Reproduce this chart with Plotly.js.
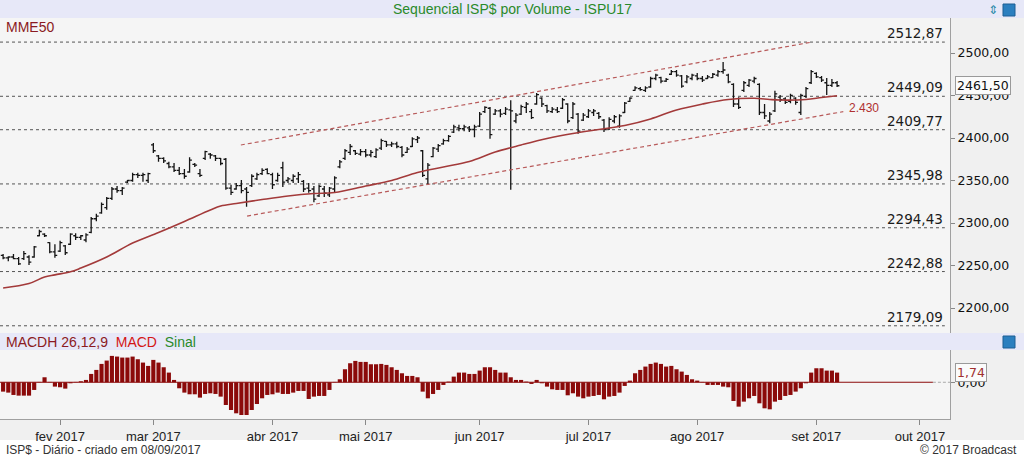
<!DOCTYPE html>
<html>
<head>
<meta charset="utf-8">
<script src="https://cdn.plot.ly/plotly-3.0.1.min.js"></script>
<style>
html,body{margin:0;padding:0;background:#f0f0f0;}
#chart{width:1024px;height:458px;}
</style>
</head>
<body>
<div id="chart"></div>
<script>
// ---- Data (trading-day index positions) ----
const monthTickIdx = [11, 29, 52, 70, 92, 113, 134, 157, 177];
const monthLabels = ["fev 2017", "mar 2017", "abr 2017", "mai 2017", "jun 2017", "jul 2017", "ago 2017", "set 2017", "out 2017"];

const openP = [
2262,2259,2260,2258,2258,2260,2260,2285,2287,2277,
2266,2267,2273,2275,2285,2283,2280,2289,2305,2312,
2318,2329,2340,2338,2348,2350,2357,2356,2350,2392,
2379,2376,2370,2366,2362,2358,2360,2369,2358,2376,
2381,2379,2376,2375,2341,2340,2344,2340,2344,2352,
2358,2363,2357,2350,2365,2350,2350,2352,2349,2341,
2340,2332,2340,2333,2340,2366,2376,2383,2385,2381,
2384,2380,2378,2388,2396,2392,2393,2389,2383,2390,
2398,2385,2352,2378,2387,2393,2397,2407,2412,2411,
2412,2410,2414,2431,2435,2428,2432,2429,2433,2420,
2428,2436,2431,2440,2447,2438,2431,2433,2435,2440,
2424,2428,2421,2425,2430,2429,2421,2411,2420,2414,
2430,2443,2456,2458,2456,2460,2470,2471,2467,2475,
2478,2473,2466,2470,2473,2470,2470,2471,2474,2478,
2474,2463,2440,2456,2462,2467,2463,2430,2420,2432,
2448,2446,2443,2447,2430,2449,2465,2476,2471,2465,
2462,2465];
const highP = [
2263.5,2261,2263.5,2260,2267,2262,2273,2292,2288,2277.5,
2275,2279,2274,2288,2288,2286,2288,2307,2311,2324,
2330.5,2342.5,2343.5,2342.5,2350.5,2359,2359,2359,2359,2394,
2380,2377.5,2372,2370.5,2366,2363.5,2377.5,2370.5,2363.5,2385,
2382.5,2380,2376.5,2376.5,2345,2347,2350.5,2342.5,2357.5,2359,
2364.5,2364.5,2359,2359,2372,2354,2357.5,2360,2350.5,2347,
2343.5,2345,2343.5,2342.5,2355,2374,2387,2393,2386,2387,
2387,2386,2388,2399,2396.5,2395.5,2395.5,2390.5,2389.5,2401,
2402.5,2386,2370.5,2389.5,2393,2399,2403.5,2415.5,2415.5,2415.5,
2414,2415.5,2430.5,2437.5,2436.5,2434,2434,2436.5,2444.5,2429.5,
2439,2442.5,2434,2453,2448,2439,2436.5,2436.5,2447,2441,
2442.5,2429.5,2429.5,2434,2434,2430.5,2422.5,2424.5,2427,2428,
2442.5,2448,2461,2460,2461,2472,2475.5,2472,2470.5,2480,
2480,2474,2474,2475.5,2476.5,2473,2474,2476.5,2480,2489.5,
2475.5,2464.5,2448,2467,2469.5,2472,2464.5,2440,2430.5,2455.5,
2450.5,2448,2452,2448,2452,2460,2480,2477.5,2473,2470.5,
2469.5,2467];
const lowP = [
2257.5,2255,2257.5,2250.5,2256.5,2250.5,2259,2284.5,2283.5,2264.5,
2259,2266,2262.5,2274,2280,2280,2277.5,2288,2302,2311,
2315.5,2327,2335.5,2333,2347,2348.5,2353,2348.5,2347,2382.5,
2372,2370.5,2364.5,2360,2356.5,2352,2359,2366,2354,2374,
2375.5,2373,2368,2339,2333,2339,2335,2319,2342.5,2350.5,
2356.5,2357.5,2340,2348.5,2342.5,2347,2347,2347,2336.5,2335.5,
2324.5,2330.5,2330.5,2330.5,2336.5,2364.5,2374,2380,2380,2379,
2377.5,2377.5,2376.5,2386,2389.5,2389.5,2388,2377.5,2382.5,2389.5,
2394,2354,2345,2377.5,2383.5,2392,2395.5,2406,2408,2408,
2407,2401,2413,2429.5,2399,2427,2424.5,2427,2339,2417.5,
2427,2429.5,2422.5,2439,2436.5,2429.5,2429.5,2429.5,2434,2417.5,
2422.5,2405,2420,2423.5,2426,2422.5,2407,2409.5,2417.5,2412,
2429.5,2442.5,2455.5,2455.5,2454,2459,2468,2464.5,2466,2474,
2472,2459,2464.5,2468,2468,2466,2469.5,2470.5,2472,2475.5,
2464.5,2436.5,2434,2454,2460,2464.5,2427,2422.5,2417.5,2430.5,
2442.5,2440,2441,2439,2427,2447,2463.5,2470.5,2466,2450.5,
2460,2460];
const closeP = [
2259,2260,2258,2252,2264,2254,2272,2290,2285,2266,
2262,2277,2265,2287,2283,2285,2286,2305,2308,2322,
2329,2340,2338,2341,2350,2357,2356,2357,2358,2385,
2376,2373,2366,2362,2358,2355,2374,2368,2356,2384,
2380,2376,2370,2341,2336,2344,2338,2336,2355,2357,
2362,2358,2345,2356,2348,2352,2355,2357,2340,2338,
2328,2343,2335,2341,2353,2372,2385,2390,2382,2384,
2380,2383,2386,2397,2392,2393,2390,2380,2387,2399,
2400,2356,2368,2388,2391,2397,2402,2413,2411,2413,
2410,2413,2428,2436,2404,2432,2428,2434,2432,2427,
2437,2440,2424,2451,2440,2432,2434,2431,2445,2420,
2440,2408,2427,2432,2432,2425,2410,2422,2425,2426,
2441,2447,2459,2457,2459,2470,2474,2467,2469,2478,
2474,2461,2472,2474,2470,2468,2472,2475,2478,2480,
2466,2440,2436,2465,2468,2470,2430,2426,2428,2452,
2445,2442,2450,2442,2450,2458,2478,2472,2468,2462,
2465,2461.5];

// MME50 read at sampled bar positions
const mmeIdx = [0,5,8,10,13,15,20,25,30,35,40,42,45,50,55,60,64,70,75,80,85,90,95,100,105,110,115,120,125,130,135,140,145,148,150,155,158,161];
const mmeVal = [2223.5,2228.8,2236.5,2239,2242.6,2247,2260,2276.5,2288.8,2301.8,2315.3,2320,2323,2327.6,2331.8,2334.7,2335.9,2343.5,2350,2359.4,2365.9,2372.4,2383.5,2391.8,2399.4,2405.3,2410,2414.7,2422.4,2433,2440,2445.3,2446.7,2445.3,2444.7,2445.3,2447.6,2449.8];

// Channel lines (endpoints)
const chanUpX = [45.9, 156.2], chanUpY = [2391.8, 2512.9];
const chanLoX = [47.1, 162.2], chanLoY = [2308.2, 2431];
const chanLabel = "2.430";

// Horizontal levels
const levels = [2512.87, 2449.09, 2409.77, 2345.98, 2294.43, 2242.88, 2179.09];
const priceTicks = [2200, 2250, 2300, 2350, 2400, 2450, 2500];
const lastPrice = 2461.50;

// MACD histogram
const macdh = [
-1.68,-1.86,-2.28,-2.4,-2.4,-2.4,-1.38,0.06,0.9,0.06,
-0.78,-0.9,-1.14,-0.18,0.06,0.18,0.42,1.5,2.22,3.3,
3.9,4.74,4.62,4.44,4.44,4.62,4.14,3.54,2.94,4.02,
3.54,2.7,1.74,0.42,-1.08,-1.86,-2.16,-2.16,-2.76,-2.1,
-1.98,-2.1,-2.58,-4.08,-4.98,-5.58,-5.88,-5.88,-4.98,-3.9,
-2.88,-2.28,-2.16,-1.86,-2.1,-2.1,-1.86,-1.56,-1.56,-3.0,
-2.58,-2.46,-2.46,-1.38,0.06,0.54,2.34,3.42,3.84,3.66,
3.66,3.24,3.24,3.3,3.12,2.7,2.22,1.62,1.14,1.14,
0.9,-1.68,-2.88,-2.1,-1.38,-0.48,0.12,1.02,1.74,1.74,
1.5,1.5,2.1,2.7,2.7,2.22,1.74,1.74,0.9,0.42,
0.42,0.12,-0.3,0.42,-0.18,-0.78,-1.26,-1.38,-1.38,-2.34,
-1.98,-2.58,-2.88,-2.58,-2.46,-2.28,-3.06,-2.58,-2.46,-1.86,
-0.66,0.3,1.62,2.22,2.82,3.3,3.54,3.3,2.82,2.94,
2.34,1.92,1.32,0.54,0.3,0.06,-0.48,-0.48,-0.48,-0.78,
-0.9,-3.36,-4.38,-3.48,-2.88,-2.46,-3.78,-4.68,-4.86,-3.48,
-3.18,-2.46,-2.28,-1.68,-1.08,-0.18,1.74,2.52,2.52,2.1,
2.1,1.74];

// ---- Build ----
const dayIdx = closeP.map((_, i) => i);
const fmt = v => v.toFixed(2).replace('.', ',');
const XR = [-0.6, 182.8];
const xEndLevels = 181.8;
const DARK = '#8b0a0a';

const traces = [
  {type:'ohlc', x:dayIdx, open:openP, high:highP, low:lowP, close:closeP,
   increasing:{line:{color:'#141414', width:1.3}},
   decreasing:{line:{color:'#141414', width:1.3}},
   tickwidth:0.45, hoverinfo:'skip', showlegend:false, xaxis:'x', yaxis:'y'},
  {type:'scatter', mode:'lines', x:mmeIdx, y:mmeVal, line:{color:'#a33a3a', width:1.6, shape:'spline'},
   hoverinfo:'skip', showlegend:false, xaxis:'x', yaxis:'y'},
  {type:'scatter', mode:'lines', x:chanUpX, y:chanUpY, line:{color:'#b85a5a', width:1.2, dash:'4px,3px'},
   hoverinfo:'skip', showlegend:false, xaxis:'x', yaxis:'y'},
  {type:'scatter', mode:'lines', x:chanLoX, y:chanLoY, line:{color:'#b85a5a', width:1.2, dash:'4px,3px'},
   hoverinfo:'skip', showlegend:false, xaxis:'x', yaxis:'y'},
  {type:'bar', x:dayIdx, y:macdh, marker:{color:DARK, line:{width:0}}, width:0.8,
   hoverinfo:'skip', showlegend:false, xaxis:'x2', yaxis:'y2'}
];

const H = 458, W = 1024;
const py = px => 1 - px / H;   // pixel row -> paper y
const pxX = px => px / W;

const shapes = [
  {type:'rect', xref:'paper', yref:'paper', x0:0, x1:1, y0:py(18), y1:1, fillcolor:'#e7e8f8', line:{width:0}, layer:'below'},
  {type:'rect', xref:'paper', yref:'paper', x0:0, x1:1, y0:py(350), y1:py(333), fillcolor:'#e7e8f8', line:{width:0}, layer:'below'},
  {type:'rect', xref:'paper', yref:'paper', x0:0, x1:1, y0:0, y1:py(440), fillcolor:'#ffffff', line:{width:0}, layer:'below'},
  // icons
  {type:'rect', xref:'paper', yref:'paper', x0:pxX(1003), x1:pxX(1015), y0:py(16), y1:py(4), fillcolor:'#2b7fbf', line:{color:'#1d5f94', width:1}},
  {type:'rect', xref:'paper', yref:'paper', x0:pxX(1003), x1:pxX(1015), y0:py(348), y1:py(336), fillcolor:'#2b7fbf', line:{color:'#1d5f94', width:1}},
  // MACD zero line and continuation
  {type:'line', xref:'x2', yref:'y2', x0:XR[0], x1:179.5, y0:0, y1:0, line:{color:DARK, width:1.2}},
  {type:'line', xref:'x2', yref:'y2', x0:179.5, x1:XR[1], y0:0, y1:0, line:{color:'#aaaaaa', width:1, dash:'3px,2px'}}
];
levels.forEach(v => shapes.push({type:'line', xref:'x', yref:'y', x0:XR[0], x1:xEndLevels, y0:v, y1:v,
  line:{color:'#555555', width:1, dash:'dot'}, layer:'below'}));

const annotations = [
  {xref:'paper', yref:'paper', x:0.5, y:py(9), text:'Sequencial ISP$ por Volume - ISPU17', showarrow:false,
   font:{family:'Liberation Sans, Arial', size:14, color:'#2a8a2a'}, xanchor:'center', yanchor:'middle'},
  {xref:'paper', yref:'paper', x:pxX(993), y:py(10), text:'⇕', showarrow:false,
   font:{family:'DejaVu Sans', size:12, color:'#2a8aa8'}, xanchor:'center', yanchor:'middle'},
  {xref:'paper', yref:'paper', x:pxX(4), y:py(27), text:'MME50', showarrow:false,
   font:{family:'Liberation Sans, Arial', size:14, color:'#8b1a22'}, xanchor:'left', yanchor:'middle'},
  {xref:'paper', yref:'paper', x:pxX(4), y:py(342), showarrow:false, xanchor:'left', yanchor:'middle',
   text:'<span style="color:#8b1a22">MACDH 26,12,9</span>  <span style="color:#d41515">MACD</span>  <span style="color:#2a8a2a">Sinal</span>',
   font:{family:'Liberation Sans, Arial', size:14}},
  {xref:'paper', yref:'paper', x:pxX(4), y:py(450), text:'ISP$ - Diário - criado em 08/09/2017', showarrow:false,
   font:{family:'Liberation Sans, Arial', size:12, color:'#333'}, xanchor:'left', yanchor:'middle'},
  {xref:'paper', yref:'paper', x:pxX(1019), y:py(450), text:'© 2017 Broadcast', showarrow:false,
   font:{family:'Liberation Sans, Arial', size:12, color:'#333'}, xanchor:'right', yanchor:'middle'},
  {xref:'x', yref:'y', x:163, y:2435.3, text:chanLabel, showarrow:false,
   font:{family:'Liberation Sans, Arial', size:12, color:'#b03030'}, xanchor:'left', yanchor:'middle'},
  {xref:'paper', yref:'y', x:pxX(955), y:lastPrice, text:fmt(lastPrice), showarrow:false,
   font:{family:'DejaVu Sans', size:12.5, color:'#111'}, xanchor:'left', yanchor:'middle',
   bgcolor:'#fbfbfb', bordercolor:'#9a9a9a', borderwidth:1, borderpad:1},
  {xref:'paper', yref:'y2', x:pxX(955), y:macdh[macdh.length-1], text:fmt(macdh[macdh.length-1]), showarrow:false,
   font:{family:'DejaVu Sans', size:12.5, color:'#a03030'}, xanchor:'left', yanchor:'middle',
   bgcolor:'#fbfbfb', bordercolor:'#9a9a9a', borderwidth:1, borderpad:1}
];
levels.forEach(v => annotations.push({xref:'x', yref:'y', x:xEndLevels, y:v, text:fmt(v), showarrow:false,
  xanchor:'right', yanchor:'bottom', yshift:-1,
  font:{family:'DejaVu Sans', size:13.5, color:'#1a1a1a'}}));

const layout = {
  width:W, height:H, margin:{l:0, r:0, t:0, b:0},
  paper_bgcolor:'#f0f0f0', plot_bgcolor:'#f5f5f5',
  separators:',.', showlegend:false, dragmode:false, hovermode:false,
  xaxis:{domain:[0, 950/W], range:XR, anchor:'y', showticklabels:false, ticks:'', showgrid:false, zeroline:false,
         showline:false, rangeslider:{visible:false}, fixedrange:true},
  yaxis:{domain:[py(333), py(18)], range:[2170.6, 2541.2], side:'right', anchor:'x', tickvals:priceTicks,
         tickformat:'.2f', showgrid:false, zeroline:false, showline:true, linecolor:'#a0a0a0', linewidth:1,
         ticks:'outside', ticklen:4, tickcolor:'#888', tickfont:{family:'DejaVu Sans', size:12.5, color:'#111'}, fixedrange:true},
  xaxis2:{domain:[0, 950/W], range:XR, anchor:'y2', tickvals:monthTickIdx, ticktext:monthLabels, ticks:'outside',
          ticklen:5, tickcolor:'#888', showline:true, linecolor:'#a0a0a0', showgrid:false, zeroline:false,
          tickfont:{family:'Liberation Sans, Arial', size:13, color:'#222'}, fixedrange:true},
  yaxis2:{domain:[py(419), py(350)], range:[-6.6, 5.8], side:'right', anchor:'x2', tickvals:[0], tickformat:'.2f',
          showgrid:false, zeroline:false, showline:true, linecolor:'#a0a0a0', ticks:'outside', ticklen:4, tickcolor:'#888',
          tickfont:{family:'DejaVu Sans', size:12.5, color:'#111'}, fixedrange:true},
  bargap:0.2,
  shapes:shapes, annotations:annotations
};

Plotly.newPlot('chart', traces, layout, {displayModeBar:false, staticPlot:true});
</script>
</body>
</html>
